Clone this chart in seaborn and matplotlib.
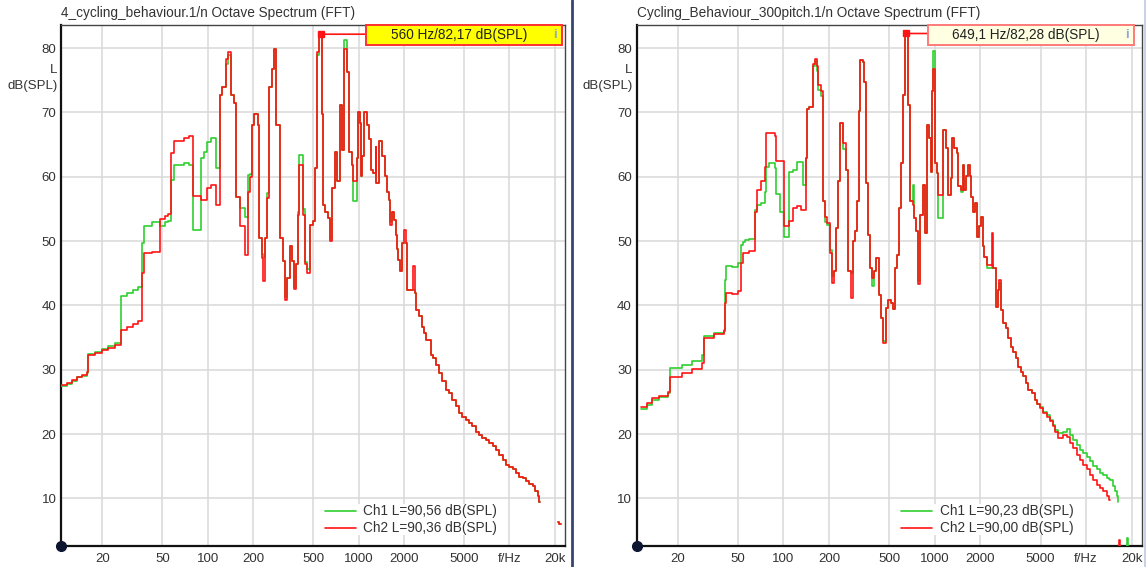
import numpy as np
import pandas as pd
import matplotlib
matplotlib.use("Agg")
import matplotlib.pyplot as plt
import seaborn as sns
from matplotlib.patches import Rectangle
from matplotlib.lines import Line2D
from matplotlib.transforms import blended_transform_factory

sns.set_theme(style="white")
plt.rcParams["font.family"] = ["Liberation Sans", "DejaVu Sans"]

# ---------------- data (1/n octave band start frequency in Hz, level in dB(SPL)) -------------
left_freq = [10.63, 11.60, 12.52, 13.52, 14.59, 15.75, 16.14, 17.88, 19.82, 21.93, 24.29, 26.62, 29.05,
             32.14, 34.69, 36.88, 38.03, 42.58, 48.34, 52.20, 54.89, 57.48, 60.18, 69.06, 74.55, 79.74,
             90.5, 93.8, 98.8, 105.5, 113.4, 121.1, 124.3, 132.1, 136.2, 142.6, 148.4, 154.7, 164.4,
             175.6, 185.0, 189.6, 196.7, 201.6, 215.6, 219.9, 229.1, 232.7, 241.0, 248.5, 256.2, 267.1,
             276.6, 285.2, 303.1, 314.1, 323.8, 337.5, 349.6, 362.7, 374.0, 385.5, 395.1, 405.5, 426.6,
             439.9, 456.3, 479.9, 497.1, 512.5, 531.7, 544.9, 576.7, 585.5, 603.7, 629.2, 644.8, 664.8,
             696.0, 722.1, 747.9, 779.4, 798.7, 841.3, 862.1, 898.6, 916.6, 980.4, 995.4, 1015, 1031,
             1058, 1084, 1130, 1171, 1202, 1245, 1297, 1311, 1364, 1437, 1496, 1551, 1590, 1614, 1657,
             1716, 1761, 1808, 1836, 1881, 1952, 2000, 2053, 2107, 2296, 2357, 2418, 2517, 2651, 2717,
             2818, 3009, 3117, 3249, 3417, 3599, 3785, 3981, 4195, 4411, 4639, 4887, 5140, 5406, 5695,
             5989, 6300, 6636, 6981, 7341, 7734, 8134, 8555, 9013, 9478, 9970, 10503, 11046, 11618,
             12239, 12873, 13540, 14263, 14840, 15394, 15776, 16070]
left_ch2 = [27.6, 27.9, 28.4, 28.9, 29.2, 29.6, 32.3, 32.6, 33.1, 33.4, 33.9, 36.2, 36.7,
            37.1, 37.6, 45.1, 48.1, 48.3, 53.5, 53.9, 54.2, 63.7, 65.6, 66.0, 66.3, 57.0,
            56.4, 56.4, 58.2, 58.7, 55.6, 72.7, 74.0, 78.3, 79.4, 72.7, 71.4, 56.9, 52.3,
            47.9, 57.7, 60.0, 68.0, 69.8, 68.0, 50.5, 47.4, 43.8, 50.5, 56.7, 74.0, 76.8,
            79.8, 68.0, 50.5, 46.9, 40.9, 44.3, 49.2, 46.9, 42.5, 46.4, 54.1, 61.8, 54.1,
            46.4, 45.1, 52.5, 53.1, 61.3, 79.4, 82.2, 69.8, 55.6, 54.6, 53.6, 50.0, 58.2,
            63.9, 59.3, 71.1, 64.2, 79.9, 76.3, 63.9, 61.8, 59.3, 62.9, 70.1, 68.3, 60.1,
            63.2, 70.1, 68.0, 65.8, 61.1, 60.6, 64.7, 59.0, 65.5, 63.2, 60.1, 57.7, 56.4, 52.5, 54.6,
            53.3, 51.0, 48.7, 47.1, 45.3, 49.7, 51.8, 49.7, 42.4, 46.1, 41.9, 39.3, 38.3, 36.7, 35.7,
            34.7, 32.3, 31.8, 30.8, 29.5, 28.2, 26.9, 26.4, 25.3, 24.3, 23.3, 22.7, 22.2, 21.7, 21.2,
            20.4, 19.9, 19.4, 19.1, 18.6, 18.1, 17.6, 16.8, 16.0, 15.2, 14.9, 14.5, 13.9, 13.4,
            13.2, 12.7, 12.3, 11.9, 11.1, 10.3, 9.5, 9.5]
left_ch1 = [27.5, 27.8, 28.3, 28.8, 29.1, 29.5, 32.5, 32.8, 33.3, 33.7, 34.2, 41.4, 41.9,
            42.4, 42.8, 49.7, 52.4, 52.9, 52.3, 52.9, 53.2, 59.5, 61.8, 62.1, 61.9, 51.8,
            62.9, 63.9, 65.4, 66.0, 61.3, 72.7, 74.0, 77.5, 79.0, 72.7, 71.4, 56.9, 55.1,
            53.8, 60.3, 60.5, 68.0, 69.8, 68.0, 50.5, 48.0, 47.5, 50.5, 57.5, 74.0, 76.8,
            79.8, 68.0, 50.5, 46.9, 41.3, 44.3, 49.2, 46.9, 42.8, 46.4, 54.5, 63.4, 55.0,
            46.8, 45.6, 52.5, 53.1, 61.3, 79.0, 82.2, 69.8, 55.6, 54.6, 53.6, 50.3, 58.2,
            63.9, 59.3, 71.1, 64.2, 81.2, 76.3, 63.9, 61.8, 56.2, 62.9, 70.1, 68.3, 60.1,
            63.2, 70.1, 68.0, 65.8, 61.1, 60.6, 64.7, 59.0, 65.5, 63.2, 60.1, 57.7, 56.4, 53.0, 54.6,
            53.3, 51.0, 48.7, 47.1, 45.3, 49.7, 49.7, 49.7, 42.4, 42.4, 41.9, 39.3, 38.3, 36.7, 35.7,
            34.7, 32.3, 31.8, 30.8, 29.5, 28.2, 26.9, 26.4, 25.3, 24.3, 23.3, 22.7, 22.2, 21.7, 21.2,
            20.4, 19.9, 19.4, 19.1, 18.6, 18.1, 17.6, 16.8, 16.0, 15.2, 14.9, 14.5, 13.9, 13.4,
            13.2, 12.7, 12.3, 11.9, 11.1, 10.3, 9.5, 9.5]
left_tail_freq = [21100, 21500, 22000]
left_tail_ch2 = [6.4, 6.0, 6.0]
left_tail_ch1 = [6.4, 6.0, 6.0]

right_freq = [11.43, 12.53, 13.52, 14.96, 17.24, 17.86, 21.34, 24.84, 28.93, 29.70, 34.57, 40.25, 40.87,
              41.69, 45.66, 50.04, 52.61, 53.99, 55.91, 58.88, 64.52, 65.12, 66.84, 71.32, 75.13, 76.97,
              80.57, 87.48, 89.22, 94.82, 100.8, 108.2, 115.0, 122.2, 129.9, 134.2, 140.8, 143.6, 148.1,
              156.0, 160.8, 167.3, 169.8, 176.2, 181.6, 188.1, 193.0, 202.9, 208.3, 216.7, 222.3, 230.2,
              236.3, 248.5, 258.9, 268.1, 278.1, 286.7, 296.9, 307.5, 314.1, 320.4, 333.9, 342.0, 351.0,
              363.5, 373.0, 384.6, 398.3, 408.8, 429.8, 441.0, 456.7, 476.0, 492.9, 511.2, 531.9, 545.8,
              565.2, 582.8, 595.3, 613.7, 632.0, 666.0, 685.8, 714.5, 731.7, 751.0, 770.8, 798.3, 831.8,
              865.4, 892.1, 919.6, 939.5, 953.9, 977.4, 1003, 1029, 1055, 1138, 1186, 1228, 1274, 1305,
              1343, 1395, 1430, 1483, 1529, 1567, 1608, 1650, 1709, 1735, 1797, 1844, 1910, 1969, 2021,
              2074, 2125, 2203, 2377, 2436, 2538, 2605, 2669, 2739, 2836, 2955, 3061, 3174, 3303, 3441,
              3564, 3696, 3845, 4007, 4150, 4371, 4596, 4760, 4958, 5213, 5490, 5773, 6070, 6229, 6550,
              7068, 7443, 7828, 8230, 8668, 9115, 9584, 10093, 10612, 11158, 11752, 12357, 12993, 13686,
              14173, 14391, 15129, 15525, 15930, 16177, 16323]
right_ch2 = [24.2, 24.8, 25.6, 25.9, 26.6, 28.9, 29.5, 30.1, 31.0, 34.9, 35.6, 36.1, 40.4,
             41.9, 41.8, 42.2, 46.6, 48.1, 48.2, 48.4, 48.9, 54.6, 58.0, 59.3, 61.6, 66.8,
             66.8, 66.3, 62.4, 62.4, 52.3, 53.1, 55.1, 55.4, 54.9, 54.9, 62.9, 70.6, 70.9,
             77.6, 78.3, 77.3, 74.2, 73.4, 56.2, 53.8, 52.8, 48.2, 43.5, 45.3, 52.0, 59.3,
             68.3, 65.2, 61.1, 45.3, 41.2, 50.0, 51.5, 56.2, 70.3, 78.1, 77.8, 74.7, 59.0,
             51.0, 45.8, 44.3, 45.3, 47.4, 41.7, 38.1, 34.2, 39.6, 40.9, 40.4, 39.4, 45.8,
             47.9, 55.1, 62.1, 72.7, 82.3, 71.1, 56.2, 55.6, 53.6, 51.5, 43.3, 54.1, 58.7,
             51.2, 68.0, 66.0, 60.8, 73.4, 76.8, 62.1, 60.6, 57.2, 67.3, 64.5, 57.2, 59.8, 66.0,
             64.5, 63.7, 58.5, 58.0, 61.9, 58.0, 60.1, 61.9, 60.1, 56.9, 54.6, 55.9, 50.7, 52.3, 53.8,
             49.2, 47.6, 46.3, 51.2, 45.8, 39.8, 42.4, 44.0, 39.3, 37.3, 36.5, 34.9, 33.6, 32.8, 31.8,
             30.5, 29.7, 29.0, 27.9, 26.9, 26.4, 25.3, 24.6, 24.0, 23.3, 22.7, 22.0, 21.2, 20.4, 19.4,
             19.9, 19.6, 18.6, 17.8, 16.8, 16.0, 15.2, 14.5, 13.7, 12.9, 12.1, 11.6, 11.1, 10.3,
             9.7, 9.7, np.nan, np.nan, np.nan, np.nan, np.nan]
right_ch1 = [23.9, 24.5, 25.3, 25.7, 26.4, 30.2, 30.7, 31.4, 32.3, 35.2, 35.7, 36.2, 44.0,
             46.1, 45.9, 46.6, 49.4, 49.8, 50.2, 50.3, 50.5, 54.9, 55.6, 55.9, 57.7, 61.6,
             62.2, 61.3, 57.4, 54.6, 50.7, 60.8, 61.0, 62.3, 62.3, 58.7, 62.9, 70.6, 70.9,
             77.3, 78.0, 76.5, 73.5, 72.5, 56.2, 53.0, 52.5, 48.6, 44.5, 45.3, 52.0, 59.3,
             68.3, 64.3, 61.1, 45.3, 45.1, 50.0, 51.5, 56.2, 70.3, 78.1, 77.8, 74.7, 59.0,
             51.0, 45.8, 43.0, 45.3, 47.4, 41.7, 38.1, 34.5, 39.6, 40.9, 40.4, 39.4, 45.8,
             47.9, 55.1, 62.1, 72.7, 82.3, 71.1, 56.2, 58.7, 53.6, 51.5, 43.8, 54.1, 58.7,
             51.2, 68.0, 66.0, 60.8, 73.4, 79.6, 62.1, 60.6, 53.6, 67.3, 64.5, 57.2, 59.8, 66.0,
             64.5, 63.7, 58.5, 57.6, 61.9, 58.0, 60.1, 61.9, 60.1, 56.9, 54.6, 55.9, 50.7, 52.3, 53.8,
             49.2, 47.6, 45.8, 46.3, 45.8, 39.8, 42.4, 43.5, 39.3, 37.3, 36.5, 34.9, 33.6, 32.8, 31.8,
             30.5, 29.7, 29.0, 27.9, 26.9, 26.4, 25.3, 24.6, 24.2, 23.5, 22.9, 22.2, 21.4, 20.6, 20.2,
             20.4, 20.8, 19.9, 19.1, 18.3, 17.6, 17.0, 16.5, 15.8, 15.0, 14.5, 13.9, 13.7, 13.2,
             13.0, 12.9, 11.9, 11.1, 10.3, 9.5, 9.5]
right_tail_ch2_freq = [16300, 16450, 16800]
right_tail_ch2 = [0.0, 3.6, 0.0]
right_tail_ch1_freq = [18400, 18640, 18900]
right_tail_ch1 = [0.0, 3.8, 0.0]

titles = ["4_cycling_behaviour.1/n Octave Spectrum (FFT)",
          "Cycling_Behaviour_300pitch.1/n Octave Spectrum (FFT)"]
legend_labels = [["Ch1 L=90,56 dB(SPL)", "Ch2 L=90,36 dB(SPL)"],
                 ["Ch1 L=90,23 dB(SPL)", "Ch2 L=90,00 dB(SPL)"]]
peaks = [(560.0, 82.17), (649.1, 82.28)]
peak_texts = ["560 Hz/82,17 dB(SPL)", "649,1 Hz/82,28 dB(SPL)"]
x_ticks = [20, 50, 100, 200, 500, 1000, 2000, 5000, 10000, 20000]
x_ticklabels = ["20", "50", "100", "200", "500", "1000", "2000", "5000", "f/Hz", "20k"]
y_ticks = [10, 20, 30, 40, 50, 60, 70, 80]

# ---------------- styling ----------------
GREEN = "#2fcf2f"
RED = "#ff1414"
GRID = "#d9d9d9"
TXT = "#333333"
XLIM = (10.7, 23400)
YLIM = (2.6, 83.6)
W, H = 1146, 567

fig = plt.figure(figsize=(W / 100, H / 100), dpi=100)
fig.patch.set_facecolor("white")


def px_axes(x0, x1, y0, y1):
    return fig.add_axes([x0 / W, 1 - y1 / H, (x1 - x0) / W, (y1 - y0) / H])


axL = px_axes(61.4, 565.0, 25, 546)
axR = px_axes(636.6, 1142.0, 25, 546)

panels = [
    (axL, left_freq, left_ch1, left_ch2,
     [(left_tail_freq, left_tail_ch1, GREEN), (left_tail_freq, left_tail_ch2, RED)],
     dict(x0=0.604, x1=0.994, face="#ffff00", edge="#ff3030")),
    (axR, right_freq, right_ch1, right_ch2,
     [(right_tail_ch1_freq, right_tail_ch1, GREEN), (right_tail_ch2_freq, right_tail_ch2, RED)],
     dict(x0=0.576, x1=0.984, face="#ffffe2", edge="#ff7a7a")),
]

for i, (ax, f, c1, c2, tails, box) in enumerate(panels):
    ax.set_xscale("log")
    ax.set_facecolor("white")
    df = pd.DataFrame({"f": f, "ch1": c1, "ch2": c2})
    d1 = df[["f", "ch1"]].dropna()
    d2 = df[["f", "ch2"]].dropna()
    sns.lineplot(data=d1, x="f", y="ch1", ax=ax, color=GREEN, lw=1.2,
                 drawstyle="steps-post", estimator=None, sort=False,
                 label=legend_labels[i][0], zorder=3)
    sns.lineplot(data=d2, x="f", y="ch2", ax=ax, color=RED, lw=1.2,
                 drawstyle="steps-post", estimator=None, sort=False,
                 label=legend_labels[i][1], zorder=4)
    for tf, tv, col in tails:
        td = pd.DataFrame({"f": tf, "v": tv})
        sns.lineplot(data=td, x="f", y="v", ax=ax, color=col, lw=1.2,
                     drawstyle="steps-post", estimator=None, sort=False,
                     legend=False, zorder=4)

    ax.set_xlim(*XLIM)
    ax.set_ylim(*YLIM)
    ax.set_xticks(x_ticks)
    ax.set_xticklabels(x_ticklabels)
    ax.xaxis.set_minor_locator(matplotlib.ticker.NullLocator())
    ax.set_yticks(y_ticks)
    ax.set_xlabel("")
    ax.set_ylabel("")
    ax.grid(True, which="major", color=GRID, lw=1.1, zorder=0)
    ax.set_axisbelow(True)
    ax.tick_params(axis="both", length=0, labelsize=9.5, labelcolor=TXT)
    ax.tick_params(axis="x", pad=5)
    ax.tick_params(axis="y", pad=3.5)
    for s in ("left", "bottom"):
        ax.spines[s].set_color("#111111")
        ax.spines[s].set_linewidth(1.6)
    for s in ("top", "right"):
        ax.spines[s].set_color("#444444")
        ax.spines[s].set_linewidth(1.0)

    # title
    ax.text(0.0, 1.023, titles[i], transform=ax.transAxes, ha="left", va="center",
            fontsize=9.8, color=TXT)
    # axis unit label
    bt = blended_transform_factory(ax.transAxes, ax.transData)
    ax.text(-0.008, 76.6, "L", transform=bt, ha="right", va="center", fontsize=9.5, color=TXT)
    ax.text(-0.008, 74.1, "dB(SPL)", transform=bt, ha="right", va="center", fontsize=9.5, color=TXT)

    # origin dot
    ax.plot([0], [0], transform=ax.transAxes, marker="o", ms=7, color="#0b1530",
            clip_on=False, zorder=10)

    # legend
    h, l = ax.get_legend_handles_labels()
    leg = ax.legend(h[:2], l[:2], loc="upper left", bbox_to_anchor=(0.524, 0.08),
                    frameon=True, fontsize=9.8, handlelength=2.25, handletextpad=0.55,
                    labelspacing=0.22, borderpad=0.0, borderaxespad=0.0)
    leg.get_frame().set_facecolor("white")
    leg.get_frame().set_edgecolor("none")
    leg.get_frame().set_alpha(1.0)
    for t in leg.get_texts():
        t.set_color(TXT)

    # peak marker + info box
    pf, pv = peaks[i]
    ax.plot([pf], [pv], marker="s", ms=5, color=RED, zorder=6, clip_on=False)
    yfrac = (pv - YLIM[0]) / (YLIM[1] - YLIM[0])
    ax.annotate("", xy=(pf, pv), xycoords="data", xytext=(box["x0"], yfrac),
                textcoords="axes fraction",
                arrowprops=dict(arrowstyle="-", color=RED, lw=1.2, shrinkA=0, shrinkB=0),
                zorder=6)
    bh = 20 / 521
    rect = Rectangle((box["x0"], 1 - bh), box["x1"] - box["x0"], bh, transform=ax.transAxes,
                     facecolor=box["face"], edgecolor=box["edge"], lw=1.4, clip_on=False, zorder=7)
    ax.add_patch(rect)
    ax.text((box["x0"] + box["x1"]) / 2 - 0.01, 1 - bh / 2, peak_texts[i], transform=ax.transAxes,
            ha="center", va="center", fontsize=9.8, color="#222222", zorder=8)
    ax.text(box["x1"] - 0.014, 1 - bh / 2, "i", transform=ax.transAxes, ha="center", va="center",
            fontsize=9.5, color="#8fa8d8", fontweight="bold", zorder=8)

# panel separator and right border
fig.add_artist(Line2D([572 / W, 572 / W], [0, 1], color="#34466e", lw=2))
fig.add_artist(Line2D([1144.5 / W, 1144.5 / W], [0, 1], color="#c8d2e6", lw=1.5))

fig.savefig("out.png", dpi=100, facecolor="white")
